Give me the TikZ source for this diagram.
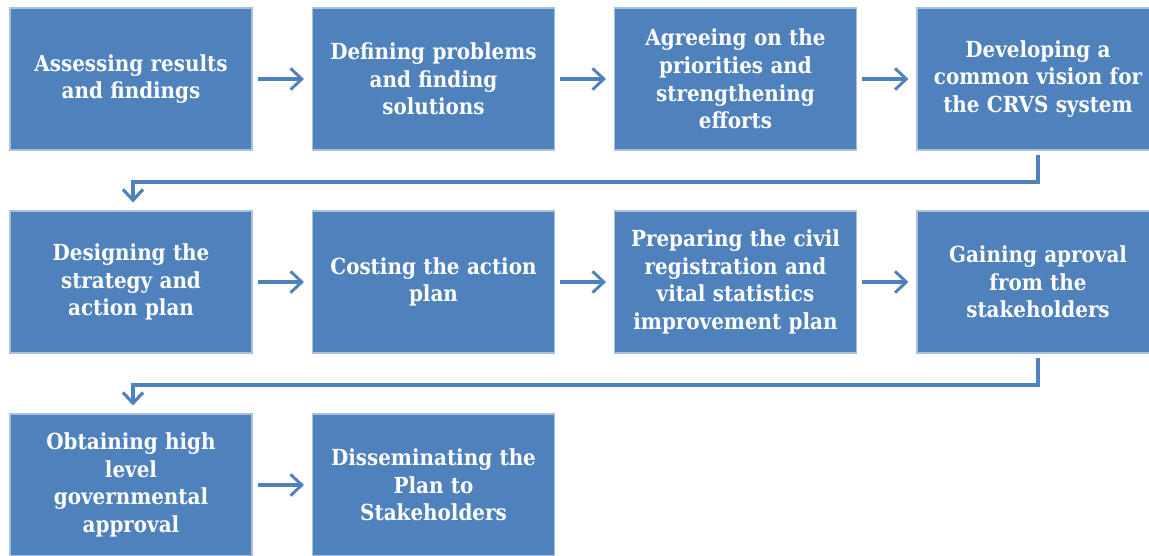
\documentclass[tikz,border=0pt]{standalone}
\usepackage{fontspec}
\setmainfont{DejaVu Serif Condensed}
\usetikzlibrary{arrows.meta}
\definecolor{boxblue}{HTML}{4F81BD}
\definecolor{boxedge}{HTML}{A9C0DE}
\tikzset{
  stepbox/.style={draw=boxedge, line width=0.8pt, fill=boxblue, minimum width=242*0.75pt, minimum height=142*0.75pt, inner sep=0pt, text=white, align=center, font=\fontsize{16.6pt}{20.8pt}\selectfont\bfseries, text width=232*0.75pt},
  flow/.style={draw=boxblue, line width=2.4pt, -{Straight Barb[length=8.5pt,width=16pt,line width=2.2pt]}},
  elbow/.style={draw=boxblue, line width=3pt, -{Straight Barb[length=8pt,width=15pt,line width=2.4pt]}}
}
\begin{document}
\begin{tikzpicture}[x=0.75pt,y=-0.75pt]
\useasboundingbox (0,0) rectangle (1149,556);
\begin{scope}
\clip (0,0) rectangle (1149,556);
\node[stepbox] (a1) at (131,79) {Assessing results\\and findings};
\node[stepbox] (a2) at (433.5,79) {Defining problems\\and finding\\solutions};
\node[stepbox] (a3) at (735.5,79) {Agreeing on the\\priorities and\\strengthening\\efforts};
\node[stepbox] (a4) at (1038,79) {Developing a\\common vision for\\the CRVS system};
\node[stepbox] (b1) at (131,282) {Designing the\\strategy and\\action plan};
\node[stepbox] (b2) at (433.5,282) {Costing the action\\plan};
\node[stepbox] (b3) at (735.5,282) {Preparing the civil\\registration and\\vital statistics\\improvement plan};
\node[stepbox] (b4) at (1038,282) {Gaining aproval\\from the\\stakeholders};
\node[stepbox] (c1) at (131,485) {Obtaining high\\level\\governmental\\approval};
\node[stepbox] (c2) at (433.5,485) {Disseminating the\\Plan to\\Stakeholders};
\end{scope}
\coordinate (e1a) at (1038,182);
\coordinate (e1b) at (133,182);
\coordinate (e2a) at (1038,385);
\coordinate (e2b) at (133,385);
\draw[flow] ([xshift=4pt]a1.east) -- ([xshift=-6pt]a2.west);
\draw[flow] ([xshift=4pt]a2.east) -- ([xshift=-6pt]a3.west);
\draw[flow] ([xshift=4pt]a3.east) -- ([xshift=-6pt]a4.west);
\draw[flow] ([xshift=4pt]b1.east) -- ([xshift=-6pt]b2.west);
\draw[flow] ([xshift=4pt]b2.east) -- ([xshift=-6pt]b3.west);
\draw[flow] ([xshift=4pt]b3.east) -- ([xshift=-6pt]b4.west);
\draw[flow] ([xshift=4pt]c1.east) -- ([xshift=-6pt]c2.west);
\draw[elbow] ([yshift=-3.5pt]a4.south -| e1a) -- (e1a) -- (e1b) -- ([yshift=6pt]b1.north -| e1b);
\draw[elbow] ([yshift=-3.5pt]b4.south -| e2a) -- (e2a) -- (e2b) -- ([yshift=6pt]c1.north -| e2b);
\end{tikzpicture}
\end{document}
